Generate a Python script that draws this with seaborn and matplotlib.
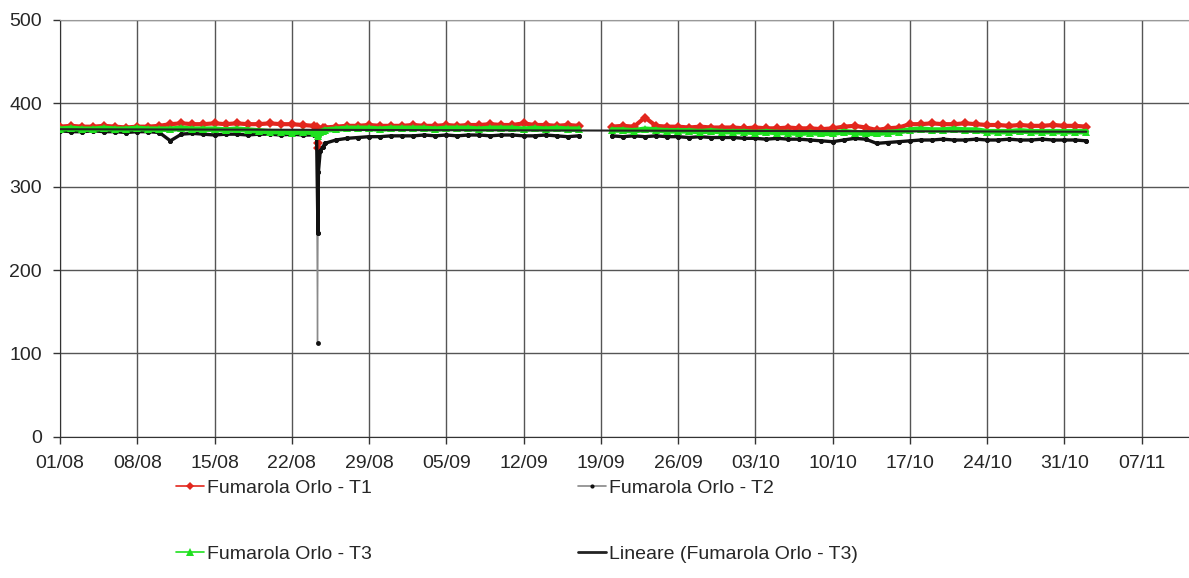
import numpy as np
import pandas as pd
import matplotlib
matplotlib.use('Agg')
import matplotlib.pyplot as plt
import matplotlib.dates as mdates
from matplotlib.lines import Line2D
import seaborn as sns

# daily readings, first block 01/08 - 17/09
t1_a = [372, 373, 372, 372, 373, 372, 371, 372, 372, 373,
        375, 376, 375, 375, 376, 375, 376, 375, 375, 376, 375, 375, 374,
        373,
        371, 372, 373, 373, 374, 373, 373,
        373, 374, 373, 373, 374, 373, 374, 374, 375, 374, 374, 376, 374, 374, 373, 374, 373]
t2_a = [367, 366, 366, 367, 366, 366, 365, 366, 366, 365,
        355, 363, 364, 363, 362, 363, 363, 362, 363, 363, 362, 363, 362,
        362,
        352, 356, 358, 359, 360, 360, 361,
        361, 361, 362, 361, 362, 361, 362, 362, 361, 362, 362, 361, 361, 362, 361, 360, 361]
t3_a = [369, 370, 369, 369, 370, 369, 369, 370, 369, 369,
        369, 370, 369, 369, 369, 368, 369, 368, 367, 366, 366, 365, 366,
        365,
        368, 369, 370, 370, 370, 369, 370,
        370, 370, 370, 369, 370, 370, 370, 369, 370, 370, 370, 369, 370, 369, 370, 369, 369]

# the drop of 24/08 (hours of the day)
drop_hours = [6, 8, 9, 10, 14, 20]
t1_drop = [372, 346, 352, 362, 368, 370]
t2_drop = [361, 112, 245, 318, 343, 348]
t3_drop = [364, 361, 363, 365, 366, 367]

# second block 20/09 - 02/11
t1_b = [372, 373, 372, 383, 373, 372, 372, 371, 372, 371, 371,
        371, 370, 371, 370, 370, 371, 370, 370, 369, 370, 372, 373, 371, 368, 370, 371,
        375, 375, 376, 375, 375, 376, 375, 374, 374, 373, 374, 373, 373, 374, 373,
        373, 372]
t2_b = [361, 360, 361, 360, 361, 360, 360, 359, 360, 359, 359,
        359, 358, 358, 357, 358, 357, 357, 356, 355, 354, 356, 358, 357, 352, 353, 354,
        355, 356, 356, 357, 356, 356, 357, 356, 356, 357, 356, 356, 357, 356, 356,
        356, 355]
t3_b = [368, 368, 367, 369, 368, 367, 367, 367, 366, 367, 366,
        366, 366, 365, 366, 365, 365, 364, 365, 364, 364, 366, 365, 364, 364, 365, 366,
        368, 369, 368, 368, 369, 368, 368, 366, 366, 366, 367, 366, 366, 366, 366,
        366, 366]

labels = ['Fumarola Orlo - T1', 'Fumarola Orlo - T2', 'Fumarola Orlo - T3',
          'Lineare (Fumarola Orlo - T3)']
tick_dates = pd.date_range('2009-08-01', periods=15, freq='7D')

# build the table
dates_a = pd.date_range('2009-08-01', '2009-09-17', freq='D')
dates_b = pd.date_range('2009-09-20', '2009-11-02', freq='D')
dates_drop = pd.Timestamp('2009-08-24') + pd.to_timedelta(drop_hours, unit='h')
df = pd.concat([
    pd.DataFrame({'date': dates_a, 'T1': t1_a, 'T2': t2_a, 'T3': t3_a, 'seg': 0}),
    pd.DataFrame({'date': dates_drop, 'T1': t1_drop, 'T2': t2_drop, 'T3': t3_drop, 'seg': 0}),
    pd.DataFrame({'date': dates_b, 'T1': t1_b, 'T2': t2_b, 'T3': t3_b, 'seg': 1}),
]).sort_values('date').reset_index(drop=True)

# linear trend of T3
xnum = mdates.date2num(df['date'])
slope, icpt = np.polyfit(xnum, df['T3'], 1)
trend = pd.DataFrame({'date': [df['date'].iloc[0], df['date'].iloc[-1]]})
trend['y'] = slope * mdates.date2num(trend['date']) + icpt

sns.set_style('white')
plt.rcParams['font.family'] = ['Liberation Sans', 'DejaVu Sans']
plt.rcParams['font.size'] = 14

fig = plt.figure(figsize=(11.89, 5.78), dpi=100)
ax = fig.add_axes([60 / 1189, 1 - 436.7 / 578, 1 - 60 / 1189, (436.7 - 20) / 578])

red, green = '#e3261d', '#1fe01f'
sns.lineplot(data=df, x='date', y='T1', units='seg', estimator=None, color=red,
             marker='D', markersize=5, markeredgewidth=0, lw=3, ax=ax, zorder=3)
# T2: thin grey line with black dots, the dense part drawn heavier
sns.lineplot(data=df, x='date', y='T2', units='seg', estimator=None, color='#8a8a8a',
             marker='o', markersize=3.5, markerfacecolor='#111111',
             markeredgewidth=0, lw=1.0, ax=ax, zorder=3)
sns.lineplot(data=df[df['T2'] > 150], x='date', y='T2', units='seg', estimator=None,
             color='#111111', marker='o', markersize=3.5, markeredgewidth=0,
             lw=2.4, ax=ax, zorder=3)
sns.lineplot(data=df, x='date', y='T3', units='seg', estimator=None, color=green,
             marker='^', markersize=6, markeredgewidth=0, lw=4, ax=ax, zorder=4)
sns.lineplot(data=trend, x='date', y='y', color='#222222', lw=1.5, ax=ax, zorder=5)

ax.set_ylim(0, 500)
ax.set_yticks(range(0, 501, 100))
ax.set_xlim(tick_dates[0], tick_dates[0] + pd.Timedelta(days=102.3))
ax.set_xticks(tick_dates)
ax.xaxis.set_major_formatter(mdates.DateFormatter('%d/%m'))
ax.grid(True, color='#555555', lw=1.0)
ax.set_axisbelow(True)
ax.set_xlabel('')
ax.set_ylabel('')
ax.spines['right'].set_visible(False)
ax.spines['top'].set_color('#999999')
ax.spines['left'].set_color('#333333')
ax.spines['bottom'].set_color('#333333')
ax.tick_params(direction='out', length=5, width=1, color='#333333',
               labelsize=14, pad=8, bottom=True, left=True)

handles = [
    Line2D([], [], color=red, lw=1.2, marker='D', markersize=4, markeredgewidth=0),
    Line2D([], [], color='#888888', lw=1.2, marker='o', markersize=3,
           markerfacecolor='#111111', markeredgewidth=0),
    Line2D([], [], color=green, lw=1.2, marker='^', markersize=6, markeredgewidth=0),
    Line2D([], [], color='#222222', lw=2),
]
order = [0, 2, 1, 3]
fig.legend([handles[i] for i in order], [labels[i] for i in order], ncol=2,
           loc='upper left', bbox_to_anchor=(176 / 1189, 1 - 479 / 578),
           frameon=False, fontsize=14, handlelength=1.45, handletextpad=0.15,
           columnspacing=10.6, labelspacing=2.5, borderpad=0, borderaxespad=0)

fig.savefig('out.png', dpi=100)
